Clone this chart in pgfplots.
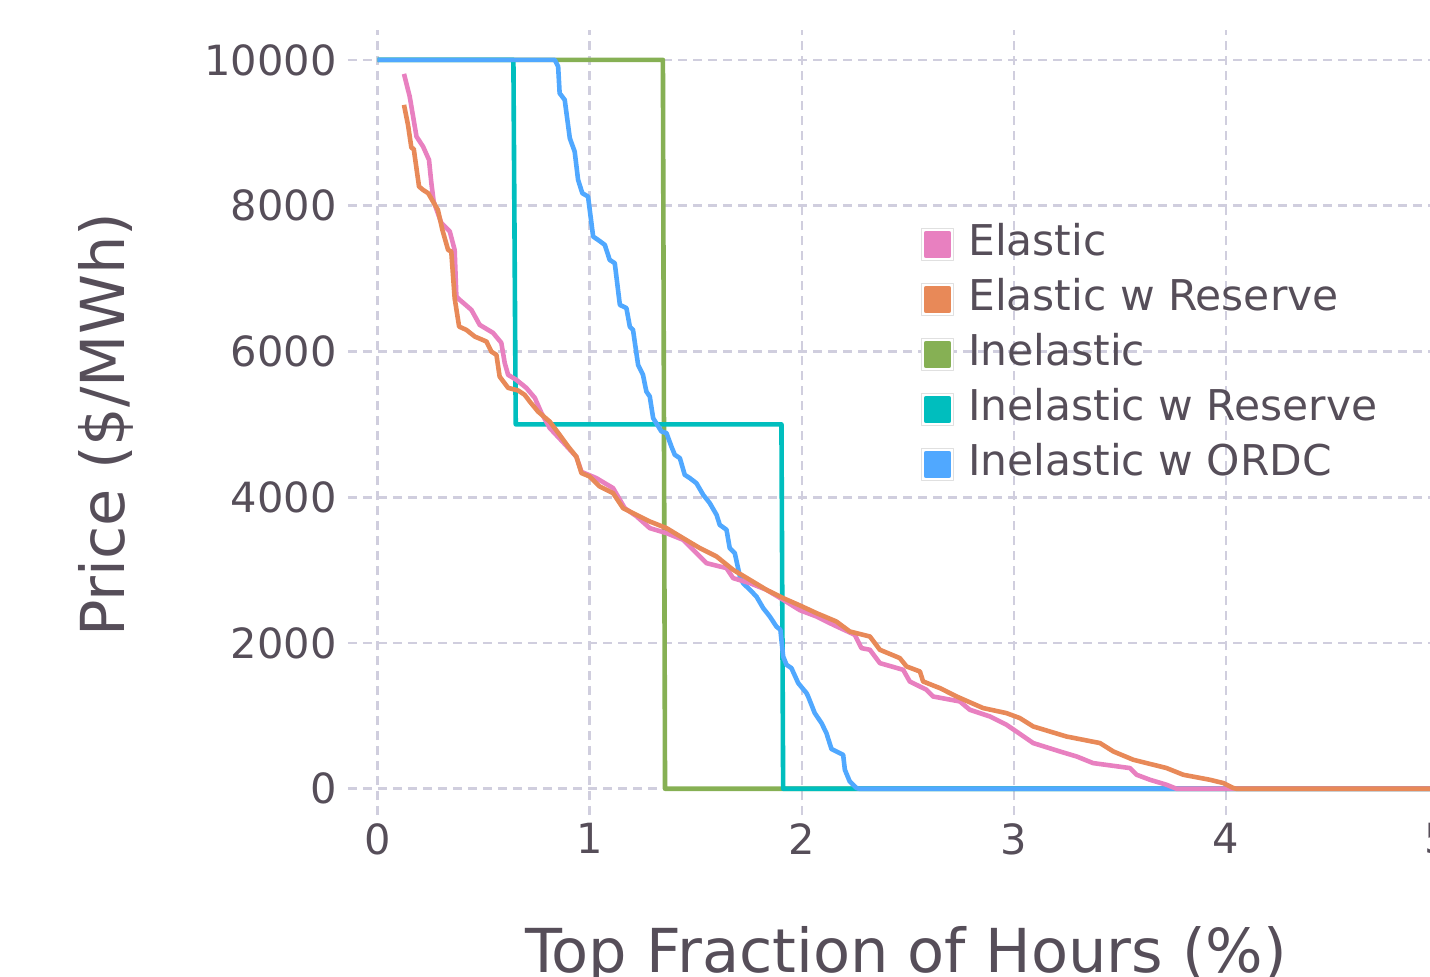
\documentclass[border=0pt]{standalone}
\usepackage{fontspec}
\setmainfont{DejaVu Sans}
\usepackage{pgfplots}
\pgfplotsset{compat=1.18}
\definecolor{txt}{RGB}{86,78,89}
\definecolor{gridc}{RGB}{208,206,222}
\definecolor{cPink}{RGB}{232,128,192}
\definecolor{cOrange}{RGB}{232,137,88}
\definecolor{cGreen}{RGB}{134,176,84}
\definecolor{cTeal}{RGB}{0,190,190}
\definecolor{cBlue}{RGB}{80,168,255}
\begin{document}
\begin{tikzpicture}
\begin{axis}[name=ax, scale only axis, width=545pt, height=392.5pt,
  xmin=-0.14, xmax=5, ymin=-360, ymax=10410,
  axis line style={draw=none}, tick style={draw=none},
  xtick={0,1,2,3,4,5}, ytick={0,2000,4000,6000,8000,10000},
  scaled ticks=false,
  grid=major,
  major grid style={gridc, line width=1.3pt, dash pattern=on 4.5pt off 3pt},
  ticklabel style={font=\fontsize{20.8}{24}\selectfont, text=txt},
  /pgf/number format/assume math mode=true,
  /pgf/number format/1000 sep={},
  yticklabel style={xshift=-2.2pt},
  xticklabel style={yshift=-0.7pt},
  xlabel={Top Fraction of Hours (\%)},
  xlabel style={at={(axis description cs:0.512,-0.2)}, anchor=base, font=\fontsize{30.3}{36}\selectfont, text=txt},
  ylabel={Price (\$/MWh)},
  ylabel style={at={(axis description cs:-0.2046,0.497)}, anchor=base, font=\fontsize{30.3}{36}\selectfont, text=txt},
  legend style={at={(axis description cs:0.5257,0.7516)}, anchor=north west, draw=none, fill=none,
    inner sep=0pt, outer sep=0pt, row sep=8pt, column sep=7pt,
    font=\fontsize{21.2}{25}\selectfont, text=txt,
    nodes={text height=15.5pt, text depth=4pt, inner ysep=0pt, inner xsep=0pt}},
  legend cell align=left,
  legend image code/.code={\draw[draw=black!12, fill=white, line width=0.6pt] (0pt,-8pt) rectangle (16pt,8pt);
    \fill (2.25pt,-5.75pt) rectangle (13.75pt,5.75pt);},
  every axis plot/.append style={line width=2.3pt, line join=round},
]
\addlegendimage{cPink}\addlegendentry{Elastic}
\addlegendimage{cOrange}\addlegendentry{Elastic w Reserve}
\addlegendimage{cGreen}\addlegendentry{Inelastic}
\addlegendimage{cTeal}\addlegendentry{Inelastic w Reserve}
\addlegendimage{cBlue}\addlegendentry{Inelastic w ORDC}

% Inelastic
\addplot[cGreen, forget plot] coordinates {(0,10000) (1.345,10000) (1.355,0) (5,0)};
% Inelastic w Reserve
\addplot[cTeal, forget plot] coordinates {(0,10000) (0.640,10000) (0.651,5000) (1.904,5000) (1.912,0) (5,0)};
% Inelastic w ORDC
\addplot[cBlue, forget plot] coordinates {(0,10000) (0.835,10000) (0.851,9908) (0.858,9543) (0.882,9451) (0.906,8925) (0.929,8742) (0.945,8354) (0.965,8171) (0.992,8125) (1.016,7576) (1.039,7531) (1.071,7462) (1.094,7256) (1.118,7211) (1.142,6639) (1.173,6594) (1.189,6341) (1.204,6296) (1.228,5816) (1.251,5679) (1.267,5450) (1.283,5382) (1.299,5085) (1.338,4902) (1.362,4879) (1.385,4696) (1.401,4582) (1.425,4536) (1.448,4307) (1.472,4262) (1.503,4193) (1.535,4033) (1.566,3919) (1.598,3758) (1.613,3621) (1.645,3553) (1.660,3302) (1.684,3233) (1.708,2913) (1.723,2821) (1.755,2730) (1.786,2638) (1.818,2478) (1.849,2364) (1.880,2226) (1.899,2181) (1.912,1815) (1.928,1701) (1.951,1656) (1.983,1450) (2.022,1313) (2.030,1266) (2.061,1038) (2.093,901) (2.116,764) (2.140,545) (2.163,512) (2.195,466) (2.203,261) (2.226,100) (2.258,10) (2.27,0) (5,0)};
% Elastic
\addplot[cPink, forget plot] coordinates {(0.124,9808) (0.151,9497) (0.183,8948) (0.214,8811) (0.242,8628) (0.253,8312) (0.264,8056) (0.300,7764) (0.340,7645) (0.363,7393) (0.371,6753) (0.387,6708) (0.442,6570) (0.481,6365) (0.544,6255) (0.583,6118) (0.599,5843) (0.615,5679) (0.654,5610) (0.701,5500) (0.741,5363) (0.772,5158) (0.811,4950) (0.874,4755) (0.937,4555) (0.961,4348) (1.031,4262) (1.110,4125) (1.165,3850) (1.22,3740) (1.283,3576) (1.362,3507) (1.440,3416) (1.487,3279) (1.550,3096) (1.645,3027) (1.676,2890) (1.755,2821) (1.833,2730) (1.912,2593) (1.991,2450) (2.069,2364) (2.148,2250) (2.250,2112) (2.281,1930) (2.321,1907) (2.368,1724) (2.478,1632) (2.509,1472) (2.588,1358) (2.619,1266) (2.745,1198) (2.792,1084) (2.887,992) (2.965,878) (3.012,786) (3.091,627) (3.217,512) (3.296,443) (3.374,352) (3.547,284) (3.579,192) (3.642,123) (3.720,55) (3.767,0) (5,0)};
% Elastic w Reserve
\addplot[cOrange, forget plot] coordinates {(0.124,9383) (0.143,9108) (0.159,8793) (0.170,8780) (0.195,8262) (0.214,8216) (0.238,8171) (0.284,7942) (0.305,7668) (0.332,7393) (0.347,7370) (0.363,6730) (0.384,6341) (0.418,6296) (0.458,6204) (0.513,6136) (0.536,5998) (0.560,5953) (0.575,5656) (0.615,5500) (0.662,5465) (0.693,5405) (0.717,5313) (0.756,5175) (0.811,5038) (0.858,4856) (0.898,4696) (0.937,4555) (0.961,4331) (1.000,4284) (1.047,4147) (1.110,4056) (1.157,3850) (1.220,3758) (1.283,3667) (1.362,3576) (1.440,3439) (1.519,3302) (1.598,3187) (1.676,3004) (1.755,2867) (1.833,2730) (1.912,2616) (1.991,2515) (2.069,2410) (2.163,2295) (2.226,2158) (2.321,2089) (2.368,1907) (2.462,1793) (2.494,1678) (2.557,1609) (2.572,1472) (2.651,1381) (2.730,1266) (2.855,1107) (2.965,1038) (3.028,970) (3.091,855) (3.248,717) (3.406,627) (3.469,512) (3.563,398) (3.720,284) (3.799,192) (3.925,123) (3.988,78) (4.035,10) (4.05,0) (5,0)};
\end{axis}
\pgfresetboundingbox
\path ([shift={(-174pt,-80.5pt)}]ax.south west) rectangle ([shift={(541pt,407.5pt)}]ax.south west);
\end{tikzpicture}
\end{document}
